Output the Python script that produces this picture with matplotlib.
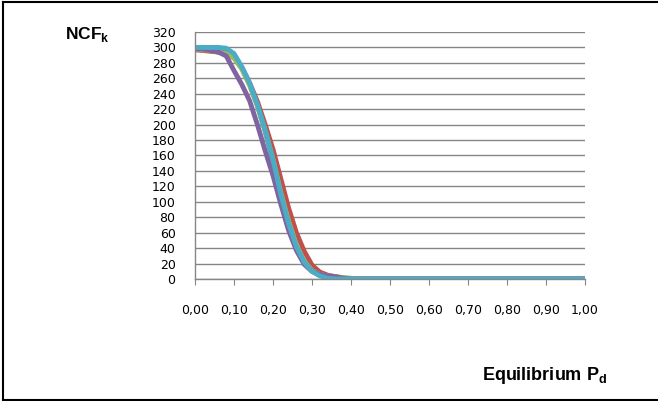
import matplotlib.pyplot as plt
from matplotlib.lines import Line2D

plt.rcParams['mathtext.fontset'] = 'custom'
plt.rcParams['mathtext.rm'] = 'Liberation Sans:bold'

# equilibrium P_d (x) and NCF_k for each run
pd_values = [0.00, 0.02, 0.04, 0.06, 0.08, 0.10, 0.12, 0.14, 0.16, 0.18, 0.20, 0.22,
             0.24, 0.26, 0.28, 0.30, 0.32, 0.34, 0.36, 0.38, 0.40, 0.42, 0.44, 0.46, 1.00]
ncf_blue = [299, 299, 299, 298, 297, 290, 274, 252, 225, 191, 152, 108,
            70, 41, 21, 10, 5, 2, 1, 0, 0, 0, 0, 0, 0]
ncf_red = [297, 296, 295, 294, 292, 287, 274, 254, 230, 200, 168, 130,
           92, 60, 36, 18, 9, 5, 3, 1, 0, 0, 0, 0, 0]
ncf_green = [298, 297, 296, 294, 292, 286, 272, 251, 224, 192, 155, 112,
             75, 44, 23, 11, 6, 4, 3, 2, 1, 0, 0, 0, 0]
ncf_purple = [298, 298, 296, 294, 289, 270, 252, 231, 200, 166, 134, 97,
              63, 37, 19, 10, 6, 4, 3, 1, 0, 0, 0, 0, 0]
ncf_cyan = [300, 300, 300, 300, 299, 292, 275, 254, 226, 193, 155, 110,
            72, 42, 22, 10, 4, 1, 0, 0, 0, 0, 0, 0, 0]

series = [ncf_blue, ncf_red, ncf_green, ncf_purple, ncf_cyan]
colors = ['#4F81BD', '#C0504D', '#9BBB59', '#8064A2', '#4BACC6']

x_ticks = [0.0, 0.1, 0.2, 0.3, 0.4, 0.5, 0.6, 0.7, 0.8, 0.9, 1.0]
x_labels = ['0,00', '0,10', '0,20', '0,30', '0,40', '0,50',
            '0,60', '0,70', '0,80', '0,90', '1,00']
y_ticks = list(range(0, 321, 20))

fig = plt.figure(figsize=(6.58, 4.01), dpi=100)
ax = fig.add_axes([195 / 658, 1 - 279 / 401, 390 / 658, 247 / 401])

for vals, c in zip(series, colors):
    ax.plot(pd_values, vals, color=c, linewidth=3.5, solid_joinstyle='round')

ax.set_xlim(0, 1)
ax.set_ylim(0, 320)
ax.set_xticks(x_ticks)
ax.set_xticklabels(x_labels)
ax.set_yticks(y_ticks)
ax.tick_params(axis='x', direction='out', length=4, width=0.8, color='#868686',
               pad=14, labelsize=9)
ax.tick_params(axis='y', length=0, pad=14, labelsize=9)
ax.yaxis.grid(True, color='#868686', linewidth=1.0)
ax.set_axisbelow(True)
for s in ['top', 'right']:
    ax.spines[s].set_visible(False)
for s in ['left', 'bottom']:
    ax.spines[s].set_color('#868686')
    ax.spines[s].set_linewidth(1.0)

fig.text(65 / 658, 1 - 34 / 401, r'NCF$_\mathrm{k}$', fontsize=12.5,
         fontweight='bold', family='Liberation Sans', va='center', ha='left')
fig.text(482 / 658, 1 - 376 / 401, r'Equilibrium P$_\mathrm{d}$', fontsize=13,
         fontweight='bold', family='Liberation Sans', va='center', ha='left')

# outer chart frame (left, top, bottom)
fig.add_artist(Line2D([2.5 / 658, 2.5 / 658], [1 - 399.5 / 401, 1 - 1.5 / 401],
                      color='black', linewidth=1.5, transform=fig.transFigure))
fig.add_artist(Line2D([2.5 / 658, 1], [1 - 1.5 / 401, 1 - 1.5 / 401],
                      color='black', linewidth=1.5, transform=fig.transFigure))
fig.add_artist(Line2D([2.5 / 658, 1], [1 - 399.5 / 401, 1 - 399.5 / 401],
                      color='black', linewidth=1.5, transform=fig.transFigure))

fig.savefig('out.png', dpi=100)
